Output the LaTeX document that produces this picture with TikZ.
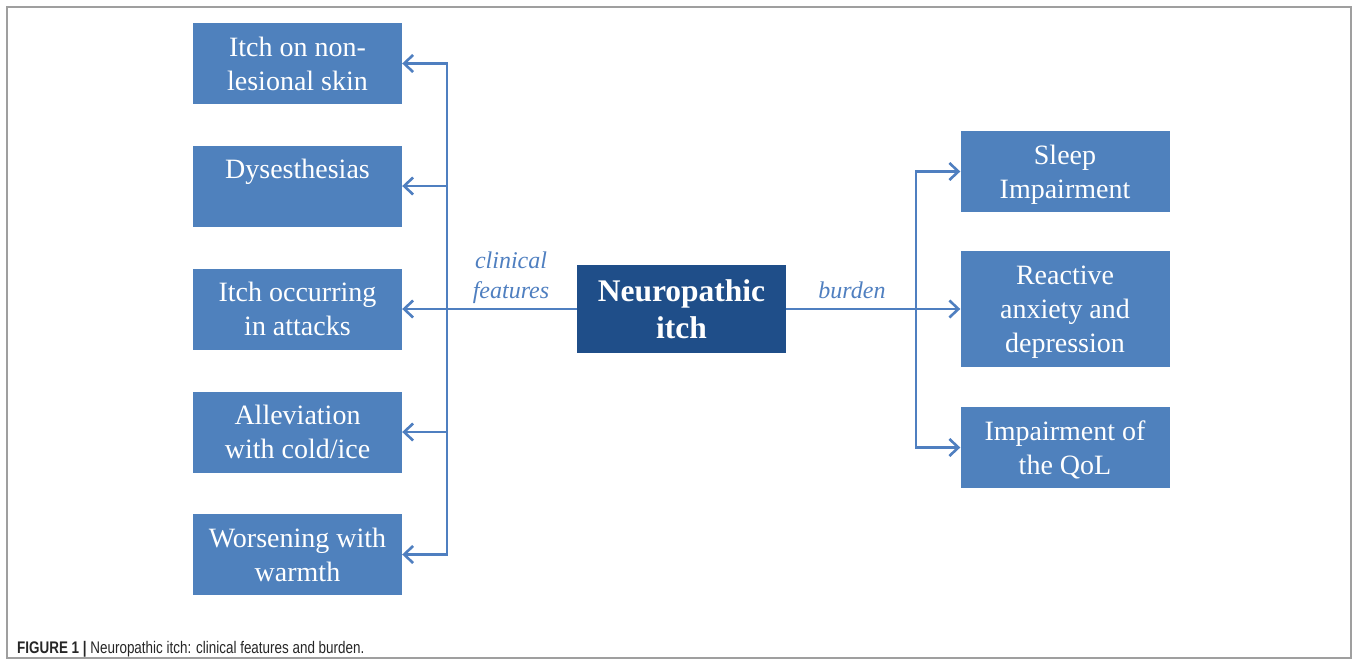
\documentclass[tikz,border=0pt]{standalone}
\usepackage{fontspec}
\setmainfont{Liberation Serif}
\newfontfamily\capfont[FakeStretch=0.8]{Liberation Sans}
\usetikzlibrary{arrows.meta}
\definecolor{boxblue}{HTML}{4F81BD}
\definecolor{darkblue}{HTML}{1F4E89}
\definecolor{lineblue}{HTML}{4F7FC0}
\tikzset{
  item/.style={fill=boxblue, text=white, minimum width=209pt, minimum height=81pt,
    inner sep=0pt, align=center, text depth=-5pt, font=\fontsize{28}{34}\selectfont},
  conn/.style={draw=lineblue, line width=2.6pt, line join=miter,
    -{Straight Barb[length=9pt,width=17pt,line width=2.6pt]}},
  tag/.style={text=lineblue, align=center, font=\itshape\fontsize{24}{30}\selectfont}
}
\begin{document}
\begin{tikzpicture}[x=1pt,y=-1pt]
  \useasboundingbox (0,0) rectangle (1358,664);
  \draw[gray!75, line width=1.2pt] (7,7) rectangle (1351,658);
  % centre
  \node[item, fill=darkblue, minimum height=88pt, font=\bfseries\fontsize{31.5}{37}\selectfont]
    (itch) at (681.5,309) {Neuropathic\\itch};
  % clinical features
  \node[item] (f1) at (297.5,63.5) {Itch on non-\\lesional skin};
  \node[item] (f2) at (297.5,186) {Dysesthesias\\\mbox{}};
  \node[item] (f3) at (297.5,309) {Itch occurring\\in attacks};
  \node[item] (f4) at (297.5,432) {Alleviation\\with cold/ice};
  \node[item] (f5) at (297.5,554.5) {Worsening with\\warmth};
  % burden
  \node[item] (b1) at (1065,171.5) {Sleep\\Impairment};
  \node[item, minimum height=116pt] (b2) at (1065,309) {Reactive\\anxiety and\\depression};
  \node[item] (b3) at (1065,447.5) {Impairment of\\the QoL};
  \node[tag] (lc) at (511,278) {clinical\\features};
  \node[tag] (lb) at (852,290) {burden};
  \coordinate (ls) at (447,309);
  \coordinate (rs) at (916,309);
  \draw[conn] (itch.west) -- (f3.east);
  \foreach \n in {f1,f2,f4,f5} \draw[conn] (ls) |- (\n.east);
  \draw[conn] (itch.east) -- (b2.west);
  \foreach \n in {b1,b3} \draw[conn] (rs) |- (\n.west);
  % caption
  \node[anchor=base west, inner sep=0pt, text=black!85,
    font=\capfont\fontsize{16.8}{20}\selectfont] (cap) at (17,653)
    {\textbf{FIGURE 1 |} Neuropathic itch: clinical features and burden.};
\end{tikzpicture}
\end{document}
